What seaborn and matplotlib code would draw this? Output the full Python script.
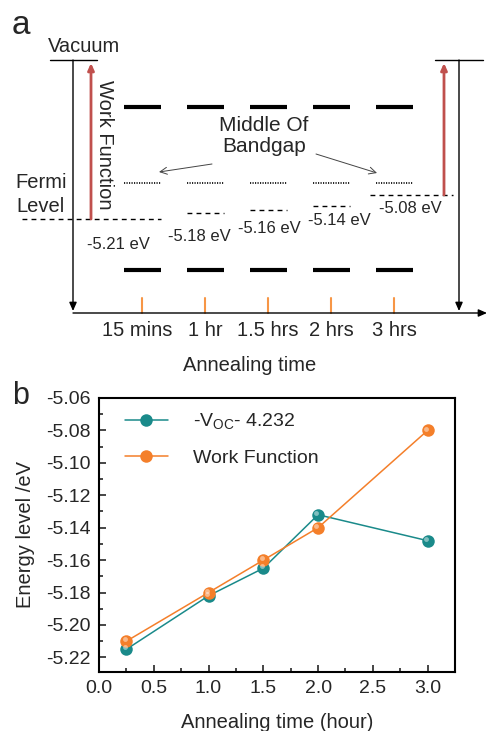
import numpy as np
import pandas as pd
import matplotlib
matplotlib.use("Agg")
import matplotlib.pyplot as plt
import matplotlib.transforms as mtransforms
import seaborn as sns

# ---------------- data ----------------
anneal_labels = ["15 mins", "1 hr", "1.5 hrs", "2 hrs", "3 hrs"]
fermi_levels = [-5.21, -5.18, -5.16, -5.14, -5.08]
fermi_text = ["-5.21 eV", "-5.18 eV", "-5.16 eV", "-5.14 eV", "-5.08 eV"]

time_hours = [0.25, 1.0, 1.5, 2.0, 3.0]
voc_shifted = [-5.215, -5.182, -5.165, -5.132, -5.148]
work_function = [-5.21, -5.18, -5.16, -5.14, -5.08]
series_names = ["-V$_{\\mathregular{OC}}$- 4.232", "Work Function"]

y_ticks = [-5.22, -5.20, -5.18, -5.16, -5.14, -5.12, -5.10, -5.08, -5.06]
x_ticks = [0.0, 0.5, 1.0, 1.5, 2.0, 2.5, 3.0]

# ---------------- style ----------------
sns.set_style("ticks")
plt.rcParams["font.family"] = ["Liberation Sans", "DejaVu Sans"]
plt.rcParams["axes.unicode_minus"] = False
plt.rcParams["mathtext.fontset"] = "custom"
plt.rcParams["mathtext.rm"] = "Liberation Sans"

W, H = 488, 731
fig = plt.figure(figsize=(W / 100, H / 100), dpi=100)

# ---------------- panel a (schematic) ----------------
axa = fig.add_axes([0, 1 - 375 / H, 1, 375 / H])
axa.set_xlim(0, W)
axa.set_ylim(375, 0)
axa.axis("off")

black = "black"
red = "#c0504d"
orange_tick = "#f79646"

x0, step, half = 142, 63, 18.5
cat_x = [x0 + i * step for i in range(len(anneal_labels))]
y_cb, y_mid, y_vb, y_axis, y_vac = 107, 183, 270, 313, 60


def fermi_y(v):
    return 219 + (v - fermi_levels[0]) * (-185)


# vacuum lines
axa.plot([50, 97], [y_vac, y_vac], color=black, lw=1.0)
axa.plot([435, 483], [y_vac, y_vac], color=black, lw=1.0)
axa.text(48, 46, "Vacuum", fontsize=14.5, ha="left", va="center")

# left & right vertical arrows
arrow_kw = dict(arrowstyle="-|>,head_length=0.5,head_width=0.22", color=black, lw=1.0,
                shrinkA=0, shrinkB=0)
axa.annotate("", xy=(73, y_axis - 2), xytext=(73, y_vac), arrowprops=arrow_kw,
             annotation_clip=False)
axa.annotate("", xy=(459, y_axis - 2), xytext=(459, y_vac), arrowprops=arrow_kw,
             annotation_clip=False)
# horizontal axis
axa.annotate("", xy=(487, y_axis), xytext=(73, y_axis), arrowprops=arrow_kw,
             annotation_clip=False)

# red work-function arrows
red_kw = dict(arrowstyle="-|>,head_length=0.4,head_width=0.18", color=red, lw=2.0,
              shrinkA=0, shrinkB=0)
axa.annotate("", xy=(91, y_vac + 3), xytext=(91, fermi_y(fermi_levels[0])), arrowprops=red_kw)
axa.annotate("", xy=(444, y_vac + 3), xytext=(444, fermi_y(fermi_levels[-1])), arrowprops=red_kw)
axa.text(104, 145, "Work Function", fontsize=14.5, rotation=-90, ha="center", va="center")

# energy levels per annealing time
lab_dx = [-24, -6, 1, 8, 16]
lab_dy = [26, 23, 19, 14, 14]
for i, (cx, ef, lab) in enumerate(zip(cat_x, fermi_levels, fermi_text)):
    axa.plot([cx - half, cx + half], [y_cb, y_cb], color=black, lw=3.0, solid_capstyle="butt")
    axa.plot([cx - half, cx + half], [y_vb, y_vb], color=black, lw=3.0, solid_capstyle="butt")
    axa.plot([cx - half, cx + half], [y_mid, y_mid], color=black, lw=1.2, ls=(0, (0.7, 0.8)))
    yf = fermi_y(ef)
    xl, xr = cx - half, cx + half
    if i == 0:
        xl = 22
    if i == len(cat_x) - 1:
        xl, xr = cx - 24, 453
    axa.plot([xl, xr], [yf, yf], color=black, lw=1.0, ls=(0, (3.5, 3)))
    axa.text(cx + lab_dx[i], yf + lab_dy[i], lab, fontsize=12, ha="center", va="center")
    axa.plot([cx, cx], [y_axis - 15, y_axis], color=orange_tick, lw=1.5)
    axa.text(cx - (5 if i == 0 else 0), 331, anneal_labels[i], fontsize=14.5,
             ha="center", va="center")

axa.text(41, 182, "Fermi", fontsize=14.5, ha="center", va="center")
axa.text(41, 207, "Level", fontsize=14.5, ha="center", va="center")
axa.text(264, 136, "Middle Of\nBandgap", fontsize=15, ha="center", va="center",
         multialignment="center", linespacing=1.1)
thin_kw = dict(arrowstyle="->,head_length=0.5,head_width=0.25", color="#444444", lw=0.7,
               shrinkA=0, shrinkB=0)
axa.annotate("", xy=(159, 172), xytext=(212, 164), arrowprops=thin_kw)
axa.annotate("", xy=(377, 173), xytext=(316, 154), arrowprops=thin_kw)
axa.text(250, 366, "Annealing time", fontsize=14.5, ha="center", va="center")
fig.text(12 / W, 1 - 26 / H, "a", fontsize=24, ha="left", va="center")

# ---------------- panel b (line plot) ----------------
left, right, top, bottom = 99, 455, 398, 672
axb = fig.add_axes([left / W, 1 - bottom / H, (right - left) / W, (bottom - top) / H])

df = pd.DataFrame({
    "time": time_hours * 2,
    "energy": voc_shifted + work_function,
    "series": [series_names[0]] * len(time_hours) + [series_names[1]] * len(time_hours),
})
palette = {series_names[0]: "#1a8a8a", series_names[1]: "#f47f2a"}
sns.lineplot(data=df, x="time", y="energy", hue="series", palette=palette, ax=axb,
             marker="o", markersize=9, markeredgewidth=0, linewidth=1.1, sort=False)

# highlight on spheres
off = mtransforms.offset_copy(axb.transData, fig=fig, x=-1.3, y=1.3, units="points")
for name, ys in zip(series_names, [voc_shifted, work_function]):
    axb.plot(time_hours, ys, ls="none", marker="o", markersize=3.5, markeredgewidth=0,
             color="white", alpha=0.45, transform=off)

axb.set_xlim(0, 3.25)
axb.set_ylim(-5.229, -5.06)
axb.set_xticks(x_ticks)
axb.set_yticks(y_ticks)
axb.set_xticklabels([f"{t:.1f}" for t in x_ticks])
axb.set_yticklabels([f"{t:.2f}" for t in y_ticks])
axb.xaxis.set_minor_locator(matplotlib.ticker.MultipleLocator(0.25))
axb.yaxis.set_minor_locator(matplotlib.ticker.MultipleLocator(0.01))
axb.tick_params(which="both", direction="in", top=False, right=False, labelsize=14, width=1.2)
axb.tick_params(which="major", length=5, pad=6)
axb.tick_params(which="minor", length=3)
for sp in axb.spines.values():
    sp.set_visible(True)
    sp.set_linewidth(1.5)
    sp.set_color("black")
axb.set_xlabel("Annealing time (hour)", fontsize=14.5, labelpad=11)
axb.set_ylabel("Energy level /eV", fontsize=14.5, labelpad=8)

handles, labels = axb.get_legend_handles_labels()
leg = axb.legend(handles, labels, loc="upper left", frameon=False, fontsize=14,
                 handlelength=2.2, handletextpad=1.3, labelspacing=0.9, borderaxespad=0.3,
                 bbox_to_anchor=(0.035, 1.0))
fig.text(12 / W, 1 - 396 / H, "b", fontsize=22, ha="left", va="center")

fig.savefig("out.png", dpi=100)
